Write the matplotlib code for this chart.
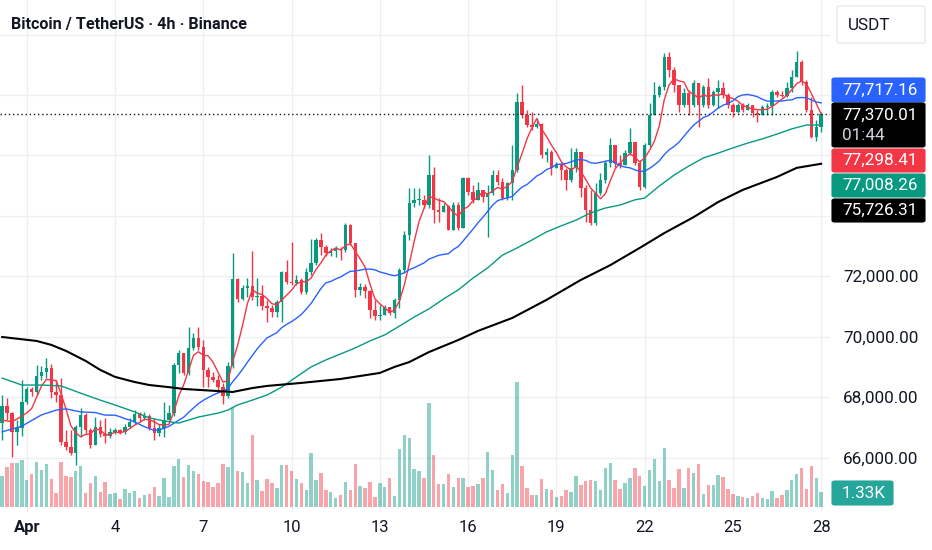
import matplotlib
matplotlib.use("Agg")
import matplotlib.pyplot as plt
import matplotlib.transforms as mtransforms
from matplotlib.patches import FancyBboxPatch
import numpy as np
import pandas as pd

plt.rcParams["font.family"] = ["Roboto", "DejaVu Sans"]

# ---------------------------------------------------------------------------
# Data: BTC/USDT 4h candles, Mar 31 04:00 -> Apr 28 00:00 (168 bars)
# ---------------------------------------------------------------------------
first_open = 67140
close = [
    67710, 67470, 66840, 66980, 67840, 68270, 68170, 68700, 68830, 68960,
    68170, 68070, 66510, 66350, 66150, 67010, 67410, 66910, 66420, 67010,
    66780, 66710, 66840, 66910, 66840, 67010, 67180, 67440, 67310, 67370,
    66980, 66810, 66980, 67240, 67470, 69060, 69460, 68800, 69630, 69960,
    69660, 68900, 68670, 68570, 68330, 68040, 69030, 71910, 71250, 71610,
    71680, 71320, 71350, 71020, 70950, 70820, 71150, 72140, 71810, 71780,
    71880, 71480, 72140, 72440, 73200, 72970, 72770, 72840, 72900, 72870,
    73700, 73100, 71550, 71650, 71510, 70880, 70690, 70720, 70980, 70790,
    71220, 72210, 73370, 74430, 74530, 74530, 74360, 75350, 74200, 74130,
    74330, 73530, 74360, 73600, 75260, 74790, 74530, 74860, 74620, 74760,
    75350, 75120, 74590, 75090, 75520, 77770, 77340, 77010, 76940, 77040,
    76020, 76120, 75590, 75720, 75520, 75190, 75590, 76120, 74920, 74200,
    73770, 74760, 75190, 75750, 76350, 75750, 75690, 76080, 76450, 75750,
    74960, 76350, 77340, 78000, 78270, 79260, 78830, 78330, 77670, 78070,
    77670, 78400, 77670, 78270, 77670, 78100, 78230, 78000, 77670, 77440,
    77670, 77510, 77670, 77410, 77340, 77610, 77640, 78100, 78000, 77970,
    78230, 78600, 79100, 78430, 77510, 76610, 76940, 77370.01,
]
high = [
    68070, 67970, 67510, 67240, 68570, 68330, 68330, 69060, 69030, 69300,
    69100, 68570, 68630, 66910, 66910, 67080, 67640, 67470, 66980, 67340,
    67240, 67310, 66980, 66980, 66940, 67110, 67310, 67570, 67510, 67510,
    67440, 67310, 67110, 67840, 67740, 69130, 69560, 69300, 70320, 70120,
    70320, 69890, 69000, 68830, 68730, 68470, 69160, 72770, 71940, 71710,
    71940, 72840, 71940, 71710, 71220, 71050, 71220, 72180, 72540, 73140,
    72040, 71940, 72280, 73240, 73270, 73430, 73040, 72940, 73000, 72970,
    73770, 73730, 73100, 71780, 71750, 71550, 71220, 71050, 71050, 70980,
    71280, 72280, 73500, 74920, 74920, 74920, 74690, 76020, 75620, 74590,
    74430, 74360, 74460, 74460, 75290, 75290, 75020, 75120, 74860, 75020,
    75520, 75520, 75260, 75120, 76350, 78070, 78330, 77510, 77440, 77240,
    77080, 76250, 76180, 75780, 75750, 75590, 76250, 76250, 75920, 75020,
    74860, 75090, 75420, 75850, 76580, 76350, 76020, 76180, 76910, 76180,
    75850, 76410, 77740, 78430, 78330, 79390, 79430, 78930, 78100, 78230,
    78170, 78500, 78400, 78330, 78570, 78170, 78500, 78430, 78070, 77740,
    77740, 77740, 77740, 77670, 77510, 77670, 77740, 78170, 78170, 78140,
    78430, 78830, 79460, 79160, 78500, 77940, 77170, 77440,
]
low = [
    66580, 67240, 66020, 66420, 66710, 67770, 68040, 68070, 68570, 68630,
    67970, 67840, 66420, 66250, 66080, 65750, 66680, 66810, 66320, 66480,
    66680, 66480, 66650, 66780, 66780, 66780, 66980, 67110, 67210, 67240,
    66910, 66580, 66710, 66680, 67240, 67370, 68800, 68730, 68730, 69560,
    69560, 68330, 68330, 68500, 68140, 67770, 67970, 68960, 71150, 71220,
    71320, 71220, 71020, 70880, 70490, 70650, 70650, 70490, 71750, 71710,
    71710, 71410, 71410, 72040, 72370, 72710, 72670, 72670, 72640, 72540,
    72800, 73040, 71320, 71380, 71280, 70620, 70550, 70550, 70720, 70720,
    70620, 70950, 72110, 73200, 74290, 74360, 74260, 74260, 73770, 73800,
    74130, 73530, 73530, 73530, 74130, 74690, 74430, 74530, 74460, 73300,
    74690, 75020, 74530, 74530, 74530, 75450, 77240, 76940, 76840, 76910,
    75920, 75780, 75350, 75590, 75190, 74860, 75120, 75450, 74620, 73800,
    73700, 73700, 74690, 75090, 75620, 75620, 75590, 75750, 76020, 75690,
    74860, 74920, 76280, 77340, 77940, 78170, 78600, 78100, 77440, 77610,
    77340, 77610, 76940, 77610, 77570, 77640, 77570, 77900, 77570, 77270,
    77410, 77440, 77510, 77270, 77110, 77340, 77340, 77340, 77940, 77940,
    77940, 78100, 78600, 78330, 77440, 76580, 76480, 76780,
]
# volume in thousands of BTC
volume_k = [
    2.75, 3.55, 3.90, 3.90, 4.17, 2.39, 2.93, 3.99, 3.28, 3.81,
    2.48, 1.24, 3.99, 2.75, 2.66, 3.19, 3.64, 1.24, 2.13, 2.75,
    1.33, 2.22, 1.15, 1.24, 0.71, 1.60, 1.24, 1.42, 0.80, 1.06,
    1.15, 1.77, 0.98, 2.57, 0.89, 3.64, 4.26, 2.66, 3.73, 3.19,
    2.93, 2.31, 2.22, 1.77, 2.13, 3.81, 3.55, 8.87, 3.19, 3.10,
    2.13, 6.39, 2.39, 1.42, 2.48, 2.13, 1.69, 3.73, 3.73, 3.19,
    2.48, 2.13, 1.51, 4.79, 2.39, 3.02, 1.51, 1.33, 0.80, 1.06,
    2.22, 1.51, 3.81, 1.86, 1.69, 2.22, 0.89, 2.13, 1.77, 2.57,
    0.98, 5.14, 6.39, 6.12, 3.37, 3.19, 2.57, 9.22, 4.61, 2.04,
    2.04, 2.93, 1.77, 2.57, 2.57, 1.77, 1.86, 2.04, 2.57, 4.88,
    3.28, 1.51, 2.04, 1.24, 4.61, 11.09, 3.64, 1.69, 1.06, 1.06,
    2.48, 1.60, 1.51, 0.89, 0.98, 1.51, 1.33, 2.75, 1.95, 2.31,
    2.39, 2.31, 1.51, 3.46, 3.90, 2.39, 1.60, 2.13, 2.57, 3.46,
    2.75, 1.86, 3.28, 4.26, 2.31, 5.23, 2.39, 1.69, 3.37, 1.69,
    3.46, 3.02, 3.81, 1.15, 1.95, 1.95, 2.84, 2.66, 1.60, 1.15,
    0.98, 0.89, 0.80, 0.98, 1.24, 0.80, 0.71, 1.42, 0.80, 1.06,
    1.51, 2.39, 2.93, 3.46, 1.60, 3.64, 2.57, 1.33,
]

# moving averages read off the chart where the history is not visible
red_early_idx = [0, 2]
red_early = [67240, 67180]
blue_early_idx = [0, 4, 8, 11, 13, 16]
blue_early = [66850, 67040, 67410, 67570, 67610, 67510]
green_idx = [0, 4, 8, 12, 16, 20, 23, 27, 30, 33, 36, 40, 44, 46, 48, 51, 54,
             57, 60, 63, 66, 69, 72, 75, 78, 81, 84, 87, 90, 93, 96, 99, 102,
             105, 108, 111, 114, 117, 120, 123, 126, 129, 131, 134, 137, 140,
             143, 146, 149, 152, 155, 158, 161, 164, 167]
green_ma = [68630, 68400, 68400, 68370, 68130, 67900, 67740, 67510, 67310,
            67210, 67140, 67340, 67470, 67570, 67740, 67900, 68070, 68330,
            68670, 69000, 69230, 69430, 69630, 69860, 70060, 70350, 70650,
            70920, 71250, 71550, 71940, 72280, 72700, 72940, 73200, 73470,
            73670, 73860, 74100, 74260, 74360, 74530, 74590, 74990, 75350,
            75650, 75920, 76080, 76250, 76410, 76550, 76710, 76880, 77010,
            77008.26]
black_idx = [0, 7, 10, 13, 17, 20, 23, 27, 30, 34, 37, 40, 44, 47, 51, 54, 61,
             69, 77, 80, 83, 87, 93, 97, 104, 111, 118, 124, 130, 135, 141,
             146, 151, 158, 162, 167]
black_ma = [69990, 69860, 69730, 69530, 69200, 68900, 68670, 68500, 68400,
            68330, 68270, 68240, 68200, 68170, 68300, 68370, 68470, 68600,
            68800, 69000, 69160, 69490, 69890, 70190, 70620, 71220, 71880,
            72370, 72940, 73430, 73960, 74460, 74860, 75290, 75590, 75726.31]

day_idx = [5, 23, 41, 59, 77, 95, 113, 131, 149, 167]
day_labels = ["Apr", "4", "7", "10", "13", "16", "19", "22", "25", "28"]
price_ticks = list(range(66000, 80001, 2000))
# labels above 72,000 sit under the price markers and are not shown
price_labels = ["66,000.00", "68,000.00", "70,000.00", "72,000.00",
                "", "", "", ""]

last_price = 77370.01
ma_labels = [("77,717.16", "#2962ff"), ("77,298.41", "#f23645"),
             ("77,008.26", "#089981"), ("75,726.31", "#000000")]

# ---------------------------------------------------------------------------
UP, DOWN = "#089981", "#f23645"
W, H = 932, 550
fig = plt.figure(figsize=(W / 100, H / 100), dpi=100)
fig.patch.set_facecolor("white")
ax = fig.add_axes([0, 38 / H, 830 / W, 512 / H])

close = np.array(close, dtype=float)
high = np.array(high, dtype=float)
low = np.array(low, dtype=float)
opens = np.concatenate([[first_open], close[:-1]])
high = np.maximum(high, np.maximum(opens, close))
low = np.minimum(low, np.minimum(opens, close))
x = np.arange(len(close))
up = close >= opens
colors = np.where(up, UP, DOWN)

# volume pane (bottom of chart, own scale)
vol_span_k = 45.4
trans = mtransforms.blended_transform_factory(ax.transData, ax.transAxes)
ax.bar(x, np.array(volume_k) / vol_span_k, bottom=0.009, width=0.7,
       color=colors, alpha=0.45, transform=trans, zorder=1, linewidth=0)

# candles
ax.vlines(x, low, high, color=colors, lw=1.0, zorder=2)
body_h = np.maximum(np.abs(close - opens), 25)
ax.bar(x, body_h, bottom=np.minimum(opens, close), width=0.7, color=colors,
       linewidth=0, zorder=3)

# moving averages
sma5 = pd.Series(close).rolling(5).mean().to_numpy()
sma20 = pd.Series(close).rolling(20).mean().to_numpy()
ax.plot(np.concatenate([red_early_idx, x[4:]]),
        np.concatenate([red_early, sma5[4:]]), color="#f23645", lw=1.0, zorder=5)
ax.plot(np.concatenate([blue_early_idx, x[19:]]),
        np.concatenate([blue_early, sma20[19:]]), color="#2962ff", lw=1.0, zorder=5)
ax.plot(green_idx, green_ma, color="#089981", lw=1.0, zorder=5)
ax.plot(black_idx, black_ma, color="#000000", lw=1.5, zorder=5)

ax.axhline(last_price, color="#131722", lw=1.0, ls=(0, (1, 2)), zorder=6)

# axes / grid
ax.set_xticks(day_idx)
ax.set_xticklabels(day_labels, fontsize=12, color="#131722")
ax.get_xticklabels()[0].set_fontweight("bold")
ax.set_yticks(price_ticks)
ax.yaxis.tick_right()
ax.set_yticklabels(price_labels, fontsize=12.3, color="#131722")
ax.set_xlim(-0.45, 168.8)
ax.set_ylim(64196, 81148)
ax.tick_params(axis="x", length=0, pad=6)
ax.tick_params(axis="y", length=0, pad=9.5)
ax.grid(True, color="#eeeff2", lw=0.9, zorder=0)
ax.set_axisbelow(True)
for s in ax.spines.values():
    s.set_visible(False)

# title
fig.text(11 / W, 1 - 24 / H, "Bitcoin / TetherUS · 4h · Binance",
         fontsize=11.6, fontweight="bold", color="#131722", va="center")


def box(x0, y0, x1, y1, face, edge=None):
    p = FancyBboxPatch((x0 / W, 1 - y1 / H), (x1 - x0) / W, (y1 - y0) / H,
                       boxstyle="round,pad=0,rounding_size=0.003",
                       transform=fig.transFigure, facecolor=face,
                       edgecolor=edge if edge else face, lw=0.8, zorder=10)
    fig.add_artist(p)


def label(xp, yp, s, color="white"):
    fig.text(xp / W, 1 - yp / H, s, fontsize=12.3, color=color,
             va="center", ha="left", zorder=11)


# currency box
box(837, 6, 925, 43, "white", "#e0e3eb")
label(848, 25, "USDT", "#131722")

# price-scale markers
box(832, 78, 925, 102, ma_labels[0][1])
label(842, 90, ma_labels[0][0])
box(832, 103, 925, 147, "#000000")
label(842, 115, f"{last_price:,.2f}")
label(842, 135, "01:44", "#d1d4dc")
ys = [149, 174, 199]
for (txt, col), y0 in zip(ma_labels[1:], ys):
    box(832, y0, 925, y0 + 23, col)
    label(842, y0 + 11.5, txt)

# last volume marker
box(832, 481, 893, 505, "#26a69a")
label(842, 493, f"{volume_k[-1]:.2f}K")

fig.savefig("out.png", dpi=100, facecolor="white")
